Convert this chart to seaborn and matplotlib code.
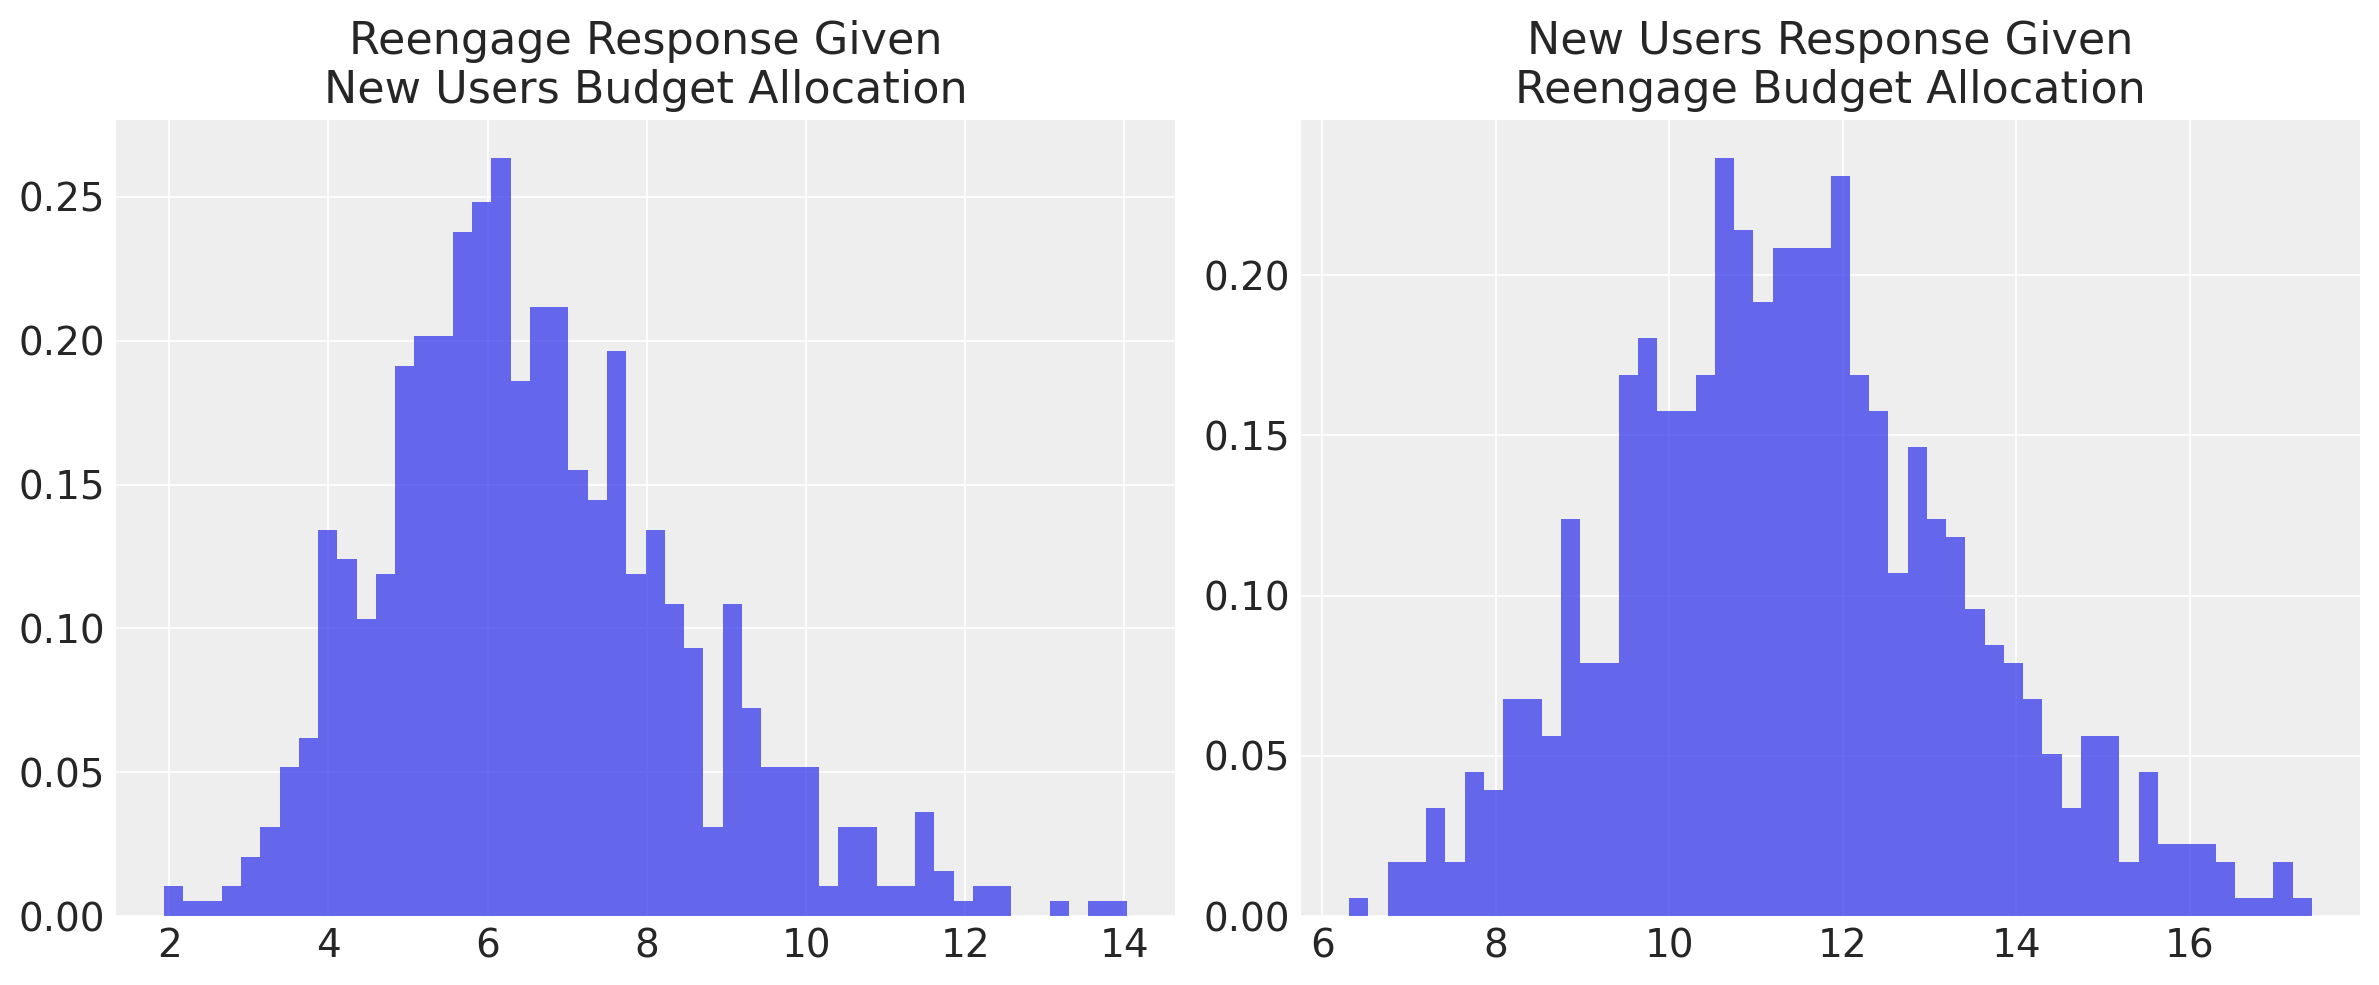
import numpy as np
import pandas as pd
import matplotlib
matplotlib.use("Agg")
import matplotlib.pyplot as plt
import seaborn as sns

# ---- data (50-bin histograms, 800 samples each) ----
left_title = "Reengage Response Given\nNew Users Budget Allocation"
left_range = (1.937, 14.03)
left_counts = [2, 1, 1, 2, 4, 6, 10, 12, 26, 24,
               20, 23, 37, 39, 39, 46, 48, 51, 36, 41,
               41, 30, 28, 38, 23, 26, 21, 18, 6, 21,
               14, 10, 10, 10, 2, 6, 6, 2, 2, 7,
               3, 1, 2, 2, 0, 0, 1, 0, 1, 1]

right_title = "New Users Response Given\nReengage Budget Allocation"
right_range = (6.31, 17.407)
right_counts = [1, 0, 3, 3, 6, 3, 8, 7, 12, 12,
                10, 22, 14, 14, 30, 32, 28, 28, 30, 42,
                38, 34, 37, 37, 37, 41, 30, 28, 19, 26,
                22, 21, 17, 15, 14, 12, 9, 6, 10, 10,
                3, 8, 4, 4, 4, 3, 1, 1, 3, 1]

bar_color = "#2a2eec"

sns.set_theme(style="darkgrid")
plt.rcParams.update({
    "axes.facecolor": "#eeeeee",
    "grid.color": "white",
    "grid.linewidth": 0.6,
    "axes.edgecolor": "white",
    "axes.linewidth": 0,
    "xtick.major.size": 0,
    "ytick.major.size": 0,
    "xtick.major.pad": 4,
    "ytick.major.pad": 4,
    "xtick.labelsize": 14,
    "ytick.labelsize": 14,
    "axes.titlesize": 16,
    "text.color": "#262626",
    "xtick.color": "#262626",
    "ytick.color": "#262626",
})
plt.rcParams["font.family"] = ["DejaVu Sans"]

W, H = 2379, 985
dpi = 200
fig = plt.figure(figsize=(W / dpi, H / dpi), dpi=dpi)
ax_l = fig.add_axes([116 / W, (H - 916) / H, (1175 - 116) / W, (916 - 120) / H])
ax_r = fig.add_axes([1301 / W, (H - 916) / H, (2360 - 1301) / W, (916 - 120) / H])


def draw(ax, counts, rng, title):
    nb = len(counts)
    edges = np.linspace(rng[0], rng[1], nb + 1)
    centers = (edges[:-1] + edges[1:]) / 2
    df = pd.DataFrame({"x": centers, "w": counts})
    sns.histplot(data=df, x="x", weights="w", bins=nb, binrange=rng,
                 stat="density", color=bar_color, alpha=0.7, linewidth=0,
                 ax=ax)
    ax.set_xlabel("")
    ax.set_ylabel("")
    ax.set_title(title, pad=6)
    ax.set_axisbelow(True)


draw(ax_l, left_counts, left_range, left_title)
draw(ax_r, right_counts, right_range, right_title)

fig.savefig("out.png", dpi=dpi)
